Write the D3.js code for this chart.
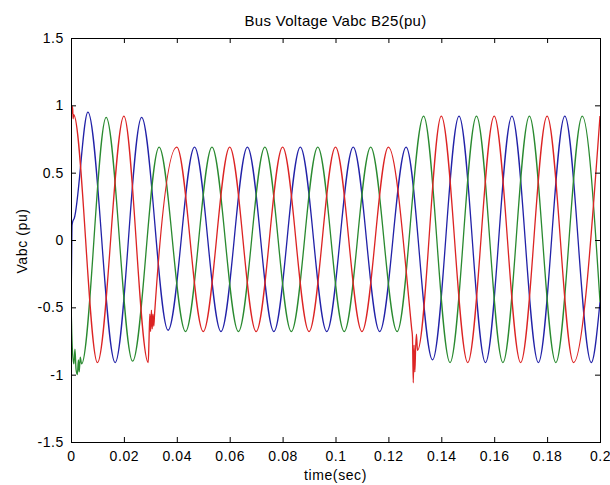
<!DOCTYPE html>
<html><head><meta charset="utf-8">
<script src="https://cdn.jsdelivr.net/npm/d3@7"></script>
<style>
html,body{margin:0;padding:0;background:#fff;}
svg{display:block;}
</style></head><body>
<svg id="chart" width="610" height="485"></svg>
<script>
// ---- data ----
const titleText = "Bus Voltage Vabc B25(pu)";
const xLabelText = "time(sec)";
const yLabelText = "Vabc (pu)";
const xTicks = [0, 0.02, 0.04, 0.06, 0.08, 0.1, 0.12, 0.14, 0.16, 0.18, 0.2];
const xTickLabels = ["0", "0.02", "0.04", "0.06", "0.08", "0.1", "0.12", "0.14", "0.16", "0.18", "0.2"];
const yTicks = [-1.5, -1, -0.5, 0, 0.5, 1, 1.5];
const yTickLabels = ["-1.5", "-1", "-0.5", "0", "0.5", "1", "1.5"];

// phase B (blue): [time s, voltage pu] at extrema and transient points
const phaseB = [
  [0.0000, -0.55], [0.0002, -0.20], [0.0004, 0.11], [0.0007, 0.14], [0.0012, 0.16],
  [0.0064, 0.95], [0.0167, -0.91], [0.0267, 0.91], [0.0367, -0.67], [0.0467, 0.69],
  [0.0567, -0.68], [0.0667, 0.69], [0.0767, -0.68], [0.0867, 0.69], [0.0967, -0.68],
  [0.1067, 0.69], [0.1167, -0.68], [0.1267, 0.69], [0.1367, -0.89], [0.1467, 0.92],
  [0.1567, -0.91], [0.1667, 0.92], [0.1767, -0.91], [0.1867, 0.92], [0.1967, -0.91],
  [0.2000, -0.46]
];
// phase C (green)
const phaseC = [
  [0.0000, -0.45], [0.0003, -0.70], [0.0006, -0.84], [0.0011, -0.92], [0.0015, -0.81],
  [0.0019, -0.96], [0.0024, -1.00], [0.0028, -0.89], [0.0031, -0.98], [0.0035, -0.87],
  [0.0040, -0.92], [0.0133, 0.91], [0.0233, -0.90], [0.0333, 0.69], [0.0433, -0.68],
  [0.0533, 0.69], [0.0633, -0.68], [0.0733, 0.69], [0.0833, -0.68], [0.0933, 0.69],
  [0.1033, -0.68], [0.1133, 0.69], [0.1233, -0.68], [0.1333, 0.92], [0.1433, -0.91],
  [0.1533, 0.92], [0.1633, -0.91], [0.1733, 0.92], [0.1833, -0.91], [0.1933, 0.92],
  [0.2000, -0.46]
];
// phase A (red)
const phaseA = [
  [0.0000, 0.93], [0.0002, 1.00], [0.0004, 0.94], [0.0006, 0.99], [0.0008, 0.90],
  [0.0010, 0.93], [0.0100, -0.91], [0.0200, 0.92], [0.0292, -0.91], [0.0295, -0.74],
  [0.0298, -0.55], [0.0301, -0.68], [0.0304, -0.52], [0.0307, -0.66], [0.0310, -0.55],
  [0.0313, -0.64], [0.0316, -0.55], [0.0400, 0.69], [0.0500, -0.68], [0.0600, 0.69],
  [0.0700, -0.68], [0.0800, 0.69], [0.0900, -0.68], [0.1000, 0.69], [0.1100, -0.68],
  [0.1200, 0.69], [0.1288, -0.66], [0.1291, -0.72], [0.1294, -1.06], [0.1297, -0.78],
  [0.1300, -0.98], [0.1303, -0.80], [0.1306, -0.70], [0.1310, -0.82], [0.1400, 0.92],
  [0.1500, -0.91], [0.1600, 0.92], [0.1700, -0.91], [0.1800, 0.92], [0.1900, -0.91],
  [0.2000, 0.92]
];

const seriesList = [phaseB, phaseC, phaseA];
const seriesColors = ["#2222a8", "#2a8a30", "#dc2424"];

// ---- layout ----
const svg = d3.select("#chart");
const L = 71, R = 600, T = 38, B = 442;
const x = d3.scaleLinear().domain([0, 0.2]).range([L, R]);
const y = d3.scaleLinear().domain([-1.5, 1.5]).range([B, T]);
const FONT = '"Liberation Sans", Arial, Helvetica, sans-serif';

svg.append("rect").attr("x", 0).attr("y", 0).attr("width", 610).attr("height", 485).attr("fill", "#fff");

svg.append("clipPath").attr("id", "plotclip")
  .append("rect").attr("x", L).attr("y", T).attr("width", R - L).attr("height", B - T);

const line = d3.line().x(d => x(d[0])).y(d => y(d[1])).curve(d3.curveMonotoneX);
const gLines = svg.append("g").attr("clip-path", "url(#plotclip)");
seriesList.forEach((s, i) => {
  gLines.append("path").attr("d", line(s)).attr("fill", "none")
    .attr("stroke", seriesColors[i]).attr("stroke-width", 1.3).attr("stroke-linejoin", "round");
});

function styleAxis(g) {
  g.select(".domain").remove();
  g.selectAll(".tick line").attr("stroke", "#000");
  g.selectAll(".tick text").attr("font-family", FONT).attr("font-size", 14)
    .attr("fill", "#000").attr("letter-spacing", "0.6px");
}
const gB = svg.append("g").attr("transform", `translate(0,${B})`)
  .call(d3.axisBottom(x).tickValues(xTicks).tickFormat((d, i) => xTickLabels[i]).tickSizeInner(-5).tickSizeOuter(0).tickPadding(9));
styleAxis(gB);
const gT = svg.append("g").attr("transform", `translate(0,${T})`)
  .call(d3.axisTop(x).tickValues(xTicks).tickFormat("").tickSizeInner(-5).tickSizeOuter(0));
styleAxis(gT);
const gL = svg.append("g").attr("transform", `translate(${L},0)`)
  .call(d3.axisLeft(y).tickValues(yTicks).tickFormat((d, i) => yTickLabels[i]).tickSizeInner(-5).tickSizeOuter(0).tickPadding(7));
styleAxis(gL);
const gR = svg.append("g").attr("transform", `translate(${R},0)`)
  .call(d3.axisRight(y).tickValues(yTicks).tickFormat("").tickSizeInner(-5).tickSizeOuter(0));
styleAxis(gR);

svg.append("rect").attr("x", L + 0.5).attr("y", T + 0.5).attr("width", R - L).attr("height", B - T)
  .attr("fill", "none").attr("stroke", "#000").attr("stroke-width", 1);

svg.append("text").attr("x", (L + R) / 2).attr("y", 26).attr("text-anchor", "middle")
  .attr("font-family", FONT).attr("font-size", 15).attr("letter-spacing", "0.3px").text(titleText);
svg.append("text").attr("x", (L + R) / 2).attr("y", 480).attr("text-anchor", "middle")
  .attr("font-family", FONT).attr("font-size", 14).attr("letter-spacing", "0.6px").text(xLabelText);
svg.append("text").attr("transform", `translate(27,241) rotate(-90)`).attr("text-anchor", "middle")
  .attr("font-family", FONT).attr("font-size", 14).attr("letter-spacing", "0.6px").text(yLabelText);
</script>
</body></html>
